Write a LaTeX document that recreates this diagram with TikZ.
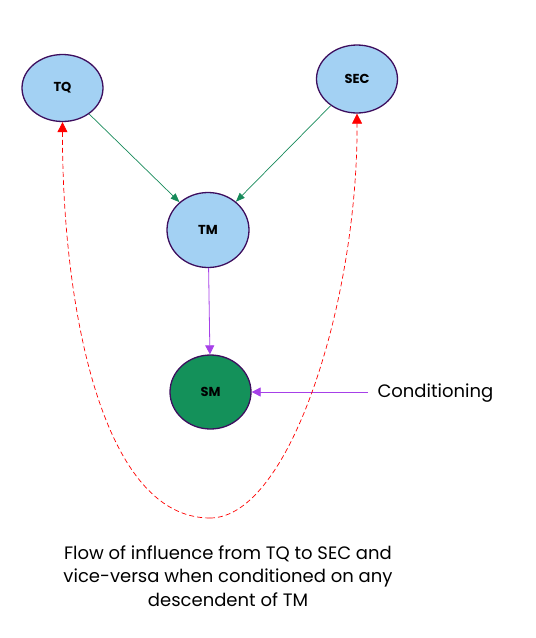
\documentclass[tikz,border=0pt]{standalone}
\usepackage{fontspec}
\setmainfont{Poppins}
\usetikzlibrary{arrows.meta,shapes.geometric}
\definecolor{nodeblue}{HTML}{A3D1F3}
\definecolor{nodegreen}{HTML}{14915A}
\definecolor{borderpurple}{HTML}{3D0E5E}
\definecolor{edgegreen}{HTML}{178A5A}
\definecolor{edgepurple}{HTML}{A640E8}
\begin{document}
\begin{tikzpicture}[x=1pt,y=-1pt,
  var/.style={ellipse,draw=borderpurple,line width=1.3pt,fill=nodeblue,minimum width=81pt,minimum height=70pt,inner sep=0pt,font=\fontsize{13}{15}\selectfont\bfseries},
  obs/.style={var,fill=nodegreen},
  gedge/.style={draw=edgegreen,line width=0.7pt,-{Triangle[length=9pt,width=7pt]}},
  pedge/.style={draw=edgepurple,line width=0.8pt,-{Triangle[length=9pt,width=9pt]}},
  redge/.style={draw=red,line width=0.7pt,dash pattern=on 5pt off 3pt,-{Triangle[length=10pt,width=10pt]}},
  lbl/.style={font=\fontsize{18}{23.5}\selectfont,align=center}]
\useasboundingbox (0,0) rectangle (536,638);
\node[var,minimum height=67pt] (TQ) at (62.5,88) {TQ};
\node[var,minimum height=68pt] (SEC) at (357,79) {SEC};
\node[var,minimum width=82pt,minimum height=75pt] (TM) at (208,230) {TM};
\node[obs,minimum height=74pt] (SM) at (210.5,392) {SM};
\node[lbl,anchor=west] (cond) at (374,393) {Conditioning};
\coordinate (condstart) at (368,392);
\coordinate (bottom) at (210,518);
\node[lbl] (caption) at (228,576) {Flow of influence from TQ to SEC and\\vice-versa when conditioned on any\\descendent of TM};
\draw[gedge] (TQ) -- (TM);
\draw[gedge] (SEC) -- (TM);
\draw[pedge] (TM) -- (SM);
\draw[pedge] (condstart) -- (SM);
\draw[redge] (bottom) .. controls (100,518) and (62,300) .. (TQ.south);
\draw[redge] (bottom) .. controls (290,518) and (358,300) .. (SEC.south);
\end{tikzpicture}
\end{document}
